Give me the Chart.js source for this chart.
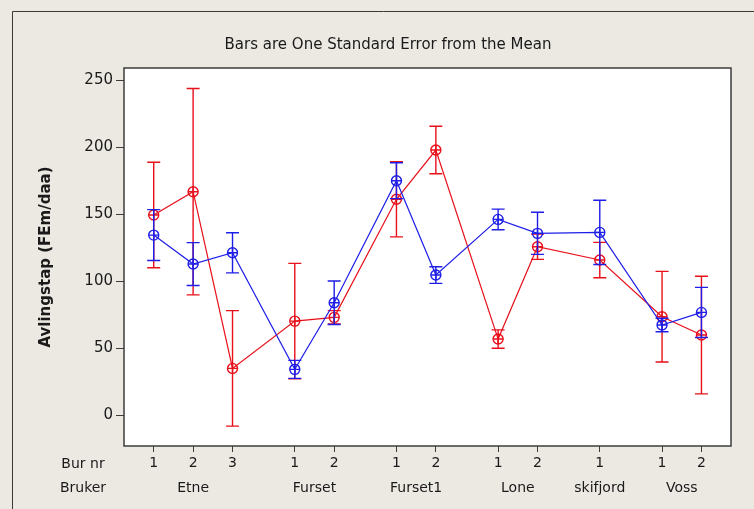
<!DOCTYPE html>
<html><head><meta charset="utf-8">
<script src="https://cdn.jsdelivr.net/npm/chart.js@4"></script>
<style>html,body{margin:0;padding:0;background:#ece9e2;overflow:hidden}#wrap{width:754px;height:509px;position:relative}</style>
</head><body><div id="wrap"><canvas id="c" width="754" height="509"></canvas></div>
<script>
// ---- data ----
const groups = ['Etne', 'Furset', 'Furset1', 'Lone', 'skifjord', 'Voss'];
const burNr = [['1', '2', '3'], ['1', '2'], ['1', '2'], ['1', '2'], ['1'], ['1', '2']];
const blueMean = [134.3, 112.7, 121.1, 34.1, 83.8, 174.9, 104.5, 146.0, 135.6, 136.3, 67.2, 76.6];
const blueSE   = [19.0, 16.0, 15.0, 6.7, 16.2, 13.4, 6.2, 7.7, 15.7, 24.0, 5.0, 18.7];
const redMean  = [149.3, 166.7, 34.8, 70.1, 72.9, 161.0, 197.8, 56.7, 125.6, 115.7, 73.4, 59.7];
const redSE    = [39.4, 77.0, 43.1, 43.1, 5.0, 28.0, 17.7, 6.9, 9.4, 13.2, 33.8, 43.9];
const yTicks = [0, 50, 100, 150, 200, 250];
const titleText = 'Bars are One Standard Error from the Mean';
const yTitle = 'Avlingstap (FEm/daa)';
const rowHeaders = ['Bur nr', 'Bruker'];

// ---- layout of category positions ----
const GAP = 1.58;
const xPos = [], xLab = [], groupCenters = [];
let p = 0;
groups.forEach((g, gi) => {
  if (gi > 0) p += GAP - 1;
  const start = p;
  burNr[gi].forEach(b => { xPos.push(p); xLab.push(b); p += 1; });
  groupCenters.push({ name: g, x: (start + p - 1) / 2 });
});

const RED = '#e8101a', BLUE = '#1e1ee8';
const FONT = 'DejaVu Sans';

const deco = {
  id: 'deco',
  beforeDraw(chart) {
    const ctx = chart.ctx, a = chart.chartArea;
    ctx.save();
    ctx.fillStyle = '#ece9e2';
    ctx.fillRect(0, 0, chart.width, chart.height);
    ctx.strokeStyle = '#3a3a3a'; ctx.lineWidth = 1;
    ctx.beginPath();
    ctx.moveTo(12.5, chart.height); ctx.lineTo(12.5, 11.5); ctx.lineTo(chart.width, 11.5);
    ctx.stroke();
    ctx.fillStyle = '#ffffff';
    ctx.fillRect(a.left, a.top, a.right - a.left, a.bottom - a.top);
    // title
    ctx.fillStyle = '#1a1a1a'; ctx.font = '15px "' + FONT + '"';
    ctx.textAlign = 'center'; ctx.textBaseline = 'middle';
    ctx.fillText(titleText, 388, 45);
    // y title
    ctx.save();
    ctx.translate(46, (a.top + a.bottom) / 2);
    ctx.rotate(-Math.PI / 2);
    ctx.font = 'bold 15px "' + FONT + '"';
    ctx.fillText(yTitle, 0, 0);
    ctx.restore();
    // x row headers and group names
    const xs = chart.scales.x;
    ctx.font = '14px "' + FONT + '"';
    ctx.fillText(rowHeaders[0], 83, 464);
    ctx.fillText(rowHeaders[1], 83, 488);
    groupCenters.forEach(gc => ctx.fillText(gc.name, xs.getPixelForValue(gc.x), 488));
    ctx.restore();
  },
  afterDatasetDraw(chart, args) {
    const ctx = chart.ctx, ds = chart.data.datasets[args.index];
    const meta = args.meta, ys = chart.scales.y;
    ctx.save();
    ctx.strokeStyle = ds.borderColor;
    meta.data.forEach((pt, i) => {
      const m = ds.data[i].y, se = ds.se[i];
      const x = pt.x;
      const yt = ys.getPixelForValue(m + se), yb = ys.getPixelForValue(m - se);
      ctx.lineWidth = 1.4;
      ctx.beginPath();
      ctx.moveTo(x, yt); ctx.lineTo(x, yb);
      ctx.moveTo(x - 6.5, yt); ctx.lineTo(x + 6.5, yt);
      ctx.moveTo(x - 6.5, yb); ctx.lineTo(x + 6.5, yb);
      ctx.stroke();
      // circle with cross marker
      const y = pt.y, r = 5;
      ctx.lineWidth = 1.4;
      ctx.beginPath(); ctx.arc(x, y, r, 0, Math.PI * 2); ctx.stroke();
      ctx.beginPath();
      ctx.moveTo(x - r, y); ctx.lineTo(x + r, y);
      ctx.moveTo(x, y - r); ctx.lineTo(x, y + r);
      ctx.stroke();
    });
    ctx.restore();
  },
  afterDraw(chart) {
    const ctx = chart.ctx, a = chart.chartArea;
    ctx.save();
    ctx.strokeStyle = '#3c3c3c'; ctx.lineWidth = 1.5;
    ctx.strokeRect(a.left, a.top, a.right - a.left, a.bottom - a.top);
    ctx.restore();
  }
};

new Chart(document.getElementById('c'), {
  type: 'line',
  data: {
    datasets: [
      { label: 'red', data: redMean.map((v, i) => ({ x: xPos[i], y: v })), se: redSE,
        borderColor: RED, borderWidth: 1.2, pointRadius: 0, fill: false, tension: 0, order: 2 },
      { label: 'blue', data: blueMean.map((v, i) => ({ x: xPos[i], y: v })), se: blueSE,
        borderColor: BLUE, borderWidth: 1.2, pointRadius: 0, fill: false, tension: 0, order: 1 }
    ]
  },
  options: {
    responsive: false, animation: false, devicePixelRatio: 1,
    layout: { padding: { left: 0, top: 68, right: 23, bottom: 0 } },
    plugins: { legend: { display: false }, tooltip: { enabled: false }, title: { display: false } },
    scales: {
      x: {
        type: 'linear', min: -0.754, max: 14.65,
        afterBuildTicks: s => { s.ticks = xPos.map(v => ({ value: v })); },
        afterFit: s => { s.height = 63; },
        ticks: { autoSkip: false, maxRotation: 0, minRotation: 0, padding: 3,
          color: '#1a1a1a', font: { family: FONT, size: 14 },
          callback: (v, i) => xLab[i] },
        grid: { drawOnChartArea: false, drawTicks: true, tickLength: 6, color: '#3c3c3c', lineWidth: 1 },
        border: { display: false }
      },
      y: {
        min: -23.1, max: 259,
        afterBuildTicks: s => { s.ticks = yTicks.map(v => ({ value: v })); },
        afterFit: s => { s.width = 124; },
        ticks: { padding: 3, color: '#1a1a1a', font: { family: FONT, size: 15 } },
        grid: { drawOnChartArea: false, drawTicks: true, tickLength: 8, color: '#3c3c3c', lineWidth: 1 },
        border: { display: false }
      }
    }
  },
  plugins: [deco]
});
</script></body></html>
